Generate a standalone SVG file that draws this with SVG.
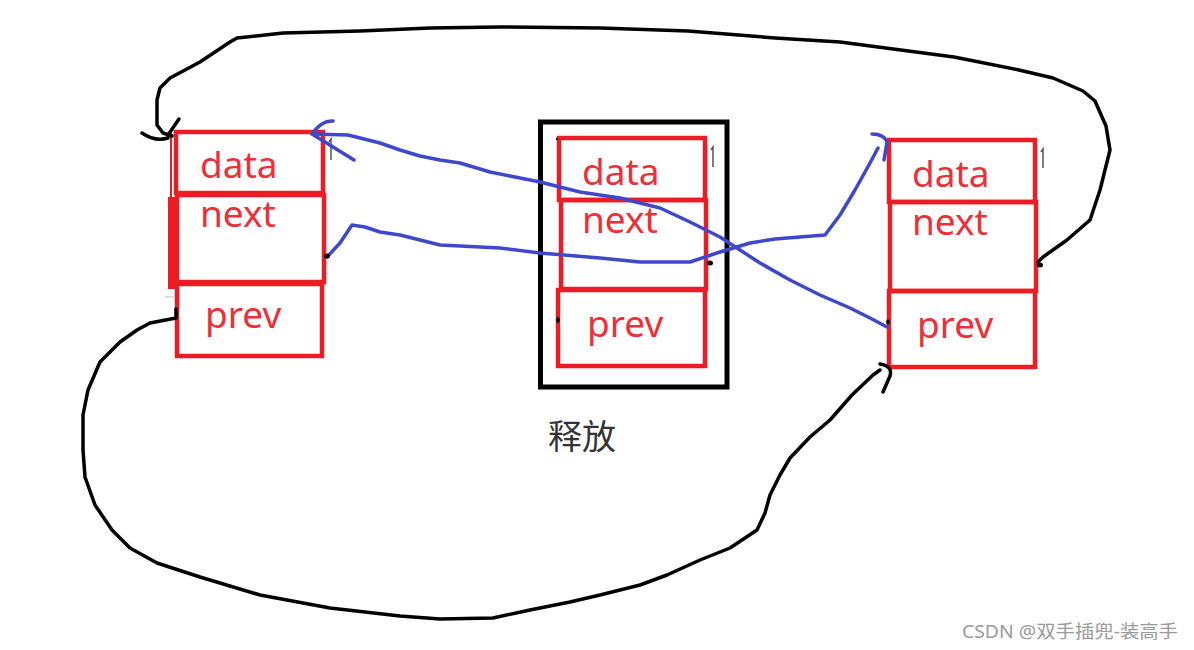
<svg xmlns="http://www.w3.org/2000/svg" width="1194" height="650" viewBox="0 0 1194 650">
<style>
.box{fill:none;stroke:#ed1c24;stroke-width:4.5}
.lbl{font-family:"Noto Sans","Liberation Sans",sans-serif;font-size:37px;fill:#ee2f37}
.ink{fill:none;stroke:#000;stroke-width:3.5;stroke-linejoin:round;stroke-linecap:round}
.blue{fill:none;stroke:#3f48cc;stroke-width:3.5;stroke-linejoin:round;stroke-linecap:round}
.mark{fill:none;stroke:#555;stroke-width:1.5}
.dot{fill:#000}
</style>
<rect width="1194" height="650" fill="#fff"/>

<g id="node-left">
<rect class="box" x="176" y="132" width="147" height="61"/>
<line x1="171" y1="133" x2="171" y2="197" stroke="#ed1c24" stroke-width="2"/>
<rect class="box" x="177" y="195" width="147" height="87"/>
<rect x="168" y="197" width="11" height="92" fill="#ed1c24"/>
<rect class="box" x="177" y="284" width="145" height="72"/>
<line x1="165" y1="297" x2="174" y2="297" stroke="#ddd" stroke-width="2"/>
<text class="lbl" x="200" y="178">data</text>
<text class="lbl" x="200" y="227">next</text>
<text class="lbl" x="205" y="328">prev</text>
<path class="mark" d="M329,142 L331,139 L331,160"/>
</g>

<g id="node-middle">
<rect x="540.5" y="122" width="186.5" height="265" fill="none" stroke="#000" stroke-width="5"/>
<rect class="box" x="559" y="138" width="146" height="62"/>
<rect class="box" x="561" y="200" width="145" height="89"/>
<rect class="box" x="558" y="290" width="147" height="76"/>
<text class="lbl" x="582" y="185">data</text>
<text class="lbl" x="582" y="233">next</text>
<text class="lbl" x="587" y="337">prev</text>
<path class="mark" d="M711,150 L713,147 L713,167"/>
</g>

<g id="node-right">
<rect class="box" x="889" y="140" width="146" height="62"/>
<rect class="box" x="890" y="202" width="146" height="89"/>
<rect class="box" x="889" y="291" width="146" height="76"/>
<text class="lbl" x="912" y="187">data</text>
<text class="lbl" x="912" y="235">next</text>
<text class="lbl" x="917" y="338">prev</text>
<path class="mark" d="M1041,152 L1043,149 L1043,168"/>
</g>

<g id="label-free">
<text x="548" y="449" font-family="'Noto Sans CJK SC',sans-serif" font-size="34" fill="#333">释放</text>
</g>

<g id="connectors">
<polyline class="ink" points="1038,262 1043,257 1067,240 1090,220 1100,190 1110,150 1106,126 1095,101 1083,91 1053,78 1019,70 954,57 840,42 775,38 688,31 600,28 500,27 430,28 360,31 283,33 237,38 230,42 200,62 170,78 160,88 157,100 157,125 163,133 172,136"/>
<path class="ink" d="M142,133 Q155,142 168,138"/>
<path class="ink" d="M179,119 L168,135"/>
<ellipse class="dot" cx="1040" cy="265" rx="3" ry="2.5"/>

<polyline class="ink" points="176,309 176,318 150,323 137,330 120,342 100,362 88,390 83,415 83,450 85,477 95,505 112,530 130,548 157,563 200,577 260,595 330,608 400,616 440,619 493,618 530,610 570,602 600,595 640,585 667,575 700,560 730,548 757,530 765,513 770,495 780,475 790,458 810,437 830,420 852,395 873,375 880,370"/>
<path class="ink" d="M880,364 Q893,366 890,376 L883,392"/>

<polyline class="blue" points="887,327 870,318 850,308 820,295 790,280 760,263 740,250 720,237 690,222 660,208 620,198 580,192 540,182 520,178 490,172 460,163 440,160 420,156 400,150 380,143 348,135 312,134"/>
<path class="blue" d="M333,121 Q322,120 312,134 L354,160"/>

<polyline class="blue" points="327,257 340,243 352,225 365,227 380,232 400,235 440,245 500,248 540,253 600,258 640,262 690,262 720,252 750,243 775,239 825,235 840,215 855,190 870,163 878,148"/>
<path class="blue" d="M872,134 Q884,134 887,142 L884,160"/>

<ellipse class="dot" cx="327" cy="256" rx="3" ry="2.5"/>
<circle class="dot" cx="557" cy="139" r="1.2"/>
<ellipse class="dot" cx="710" cy="263" rx="3" ry="2.5"/>
<ellipse class="dot" cx="558" cy="320" rx="1.8" ry="3"/>
<ellipse class="dot" cx="888" cy="322" rx="1.8" ry="2.5"/>
</g>

<text x="962" y="638" font-family="'Noto Sans','Noto Sans CJK SC',sans-serif" font-size="18" fill="#9a9a9a" textLength="216" lengthAdjust="spacingAndGlyphs">CSDN @双手插兜-装高手</text>
</svg>
